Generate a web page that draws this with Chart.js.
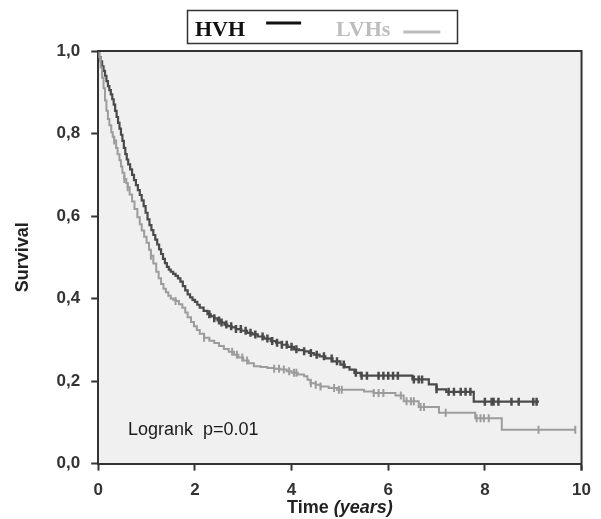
<!DOCTYPE html>
<html>
<head>
<meta charset="utf-8">
<script src="https://cdn.jsdelivr.net/npm/chart.js@4.4.1/dist/chart.umd.min.js"></script>
<style>
  html, body { margin: 0; padding: 0; background: #fff; }
  #wrap { width: 601px; height: 519px; }
</style>
</head>
<body>
<div id="wrap"><canvas id="myChart" width="601" height="519"></canvas></div>
<script>
// Kaplan-Meier curves (time in years, survival)
const hvhTime = [0, 0.02, 0.05, 0.08, 0.11, 0.14, 0.17, 0.2, 0.23, 0.26, 0.29, 0.32, 0.35, 0.38, 0.41, 0.44, 0.47, 0.5, 0.53, 0.56, 0.59, 0.62, 0.66, 0.7, 0.74, 0.78, 0.82, 0.86, 0.9, 0.94, 0.98, 1.02, 1.06, 1.1, 1.14, 1.18, 1.22, 1.26, 1.3, 1.34, 1.38, 1.42, 1.46, 1.5, 1.55, 1.6, 1.65, 1.7, 1.75, 1.8, 1.85, 1.9, 1.95, 2.0, 2.05, 2.1, 2.18, 2.26, 2.33, 2.4, 2.47, 2.55, 2.61, 2.67, 2.76, 2.85, 2.96, 3.08, 3.19, 3.3, 3.43, 3.57, 3.68, 3.8, 3.92, 4.05, 4.15, 4.26, 4.36, 4.46, 4.58, 4.7, 4.85, 5.01, 5.1, 5.2, 5.3, 5.43, 6.5, 6.84, 7.0, 7.2, 7.77, 9.12];
const hvhSurv = [1.0, 0.985, 0.975, 0.963, 0.952, 0.94, 0.927, 0.915, 0.905, 0.895, 0.883, 0.87, 0.855, 0.84, 0.826, 0.812, 0.797, 0.782, 0.765, 0.75, 0.737, 0.725, 0.713, 0.70, 0.687, 0.675, 0.663, 0.651, 0.638, 0.624, 0.608, 0.592, 0.578, 0.566, 0.554, 0.543, 0.531, 0.519, 0.508, 0.496, 0.486, 0.477, 0.47, 0.465, 0.46, 0.455, 0.449, 0.441, 0.43, 0.42, 0.41, 0.403, 0.397, 0.392, 0.385, 0.378, 0.37, 0.362, 0.357, 0.352, 0.347, 0.342, 0.337, 0.333, 0.33, 0.326, 0.322, 0.317, 0.313, 0.308, 0.303, 0.297, 0.293, 0.288, 0.283, 0.277, 0.275, 0.272, 0.268, 0.264, 0.26, 0.255, 0.248, 0.24, 0.234, 0.228, 0.22, 0.213, 0.204, 0.192, 0.180, 0.174, 0.150, 0.150];

const lvhTime = [0, 0.02, 0.05, 0.08, 0.11, 0.14, 0.17, 0.2, 0.23, 0.27, 0.3, 0.33, 0.37, 0.4, 0.44, 0.47, 0.5, 0.54, 0.58, 0.61, 0.65, 0.7, 0.75, 0.81, 0.86, 0.9, 0.95, 1.0, 1.05, 1.09, 1.14, 1.2, 1.25, 1.3, 1.35, 1.4, 1.45, 1.5, 1.55, 1.6, 1.67, 1.74, 1.8, 1.85, 1.92, 1.98, 2.04, 2.1, 2.19, 2.3, 2.4, 2.5, 2.6, 2.7, 2.81, 2.9, 3.0, 3.11, 3.22, 3.36, 3.5, 3.64, 3.77, 3.9, 4.0, 4.13, 4.26, 4.33, 4.39, 4.5, 4.6, 4.77, 4.94, 5.5, 5.7, 6.15, 6.32, 6.63, 7.05, 7.8, 8.35, 9.87];
const lvhSurv = [1.0, 0.985, 0.96, 0.935, 0.91, 0.88, 0.855, 0.835, 0.82, 0.803, 0.792, 0.783, 0.765, 0.75, 0.735, 0.72, 0.705, 0.69, 0.68, 0.67, 0.652, 0.635, 0.617, 0.597, 0.58, 0.565, 0.55, 0.535, 0.518, 0.504, 0.485, 0.465, 0.449, 0.435, 0.424, 0.415, 0.407, 0.40, 0.397, 0.394, 0.386, 0.378, 0.366, 0.355, 0.343, 0.333, 0.324, 0.315, 0.305, 0.298, 0.292, 0.285, 0.278, 0.271, 0.264, 0.257, 0.25, 0.243, 0.236, 0.234, 0.232, 0.23, 0.228, 0.224, 0.22, 0.216, 0.212, 0.203, 0.195, 0.191, 0.187, 0.183, 0.179, 0.175, 0.171, 0.165, 0.151, 0.137, 0.123, 0.110, 0.082, 0.082];

// censored observations (time in years)
const hvhCensor = [2.3, 2.4, 2.5, 2.55, 2.65, 2.75, 2.85, 2.95, 3.05, 3.15, 3.25, 3.4, 3.5, 3.6, 3.7, 3.8, 3.9, 4.0, 4.1, 4.26, 4.4, 4.52, 4.67, 4.83, 4.94, 5.08, 5.33, 5.45, 5.56, 5.8, 5.9, 6.0, 6.1, 6.2, 6.53, 6.63, 6.7, 7.0, 7.25, 7.36, 7.5, 7.6, 7.7, 8.0, 8.14, 8.18, 8.28, 8.55, 8.7, 9.0, 9.07];
const lvhCensor = [0.33, 0.54, 0.61, 1.09, 1.6, 2.19, 2.77, 2.87, 2.98, 3.08, 3.64, 3.74, 3.84, 3.95, 4.05, 4.1, 4.4, 4.5, 4.6, 4.88, 4.98, 5.04, 5.7, 5.8, 5.9, 6.26, 6.38, 6.47, 6.53, 6.67, 6.74, 7.19, 7.83, 7.91, 7.98, 8.08, 9.11, 9.87];

const groups = ['HVH', 'LVHs'];
const xTicks = [0, 2, 4, 6, 8, 10];
const yTicks = [0, 0.2, 0.4, 0.6, 0.8, 1.0];

// value of the step curve at time t
const survAt = (times, surv, t) => {
    let v = surv[0];
    for (let i = 0; i < times.length; i++) {
        if (times[i] <= t) v = surv[i];
    }
    return v;
};

const toPoints = (times, surv) => times.map((t, i) => ({x: t, y: surv[i]}));
const censorPoints = (cens, times, surv) => cens.map(t => ({x: t, y: survAt(times, surv, t)}));

const darkColor = '#4a4a4a';
const lightColor = '#9c9c9c';

// grey panel behind the curves + frame
const plotBg = {
    id: 'plotBg',
    beforeDraw(chart) {
        const {ctx, chartArea: a} = chart;
        ctx.save();
        ctx.fillStyle = '#f0f0f0';
        ctx.fillRect(a.left, a.top, a.right - a.left, a.bottom - a.top);
        ctx.restore();
    },
    afterDatasetsDraw(chart) {
        const {ctx, chartArea: a} = chart;
        ctx.save();
        ctx.strokeStyle = '#333';
        ctx.lineWidth = 2;
        ctx.beginPath();
        ctx.moveTo(a.left, a.top);
        ctx.lineTo(a.right, a.top);
        ctx.lineTo(a.right, a.bottom + 7);
        ctx.stroke();
        ctx.restore();
    }
};

// legend box at top, xtitle with italic part, logrank note
const extras = {
    id: 'extras',
    afterDraw(chart) {
        const {ctx, chartArea: a} = chart;
        ctx.save();
        // legend
        ctx.strokeStyle = '#333';
        ctx.lineWidth = 1.5;
        ctx.strokeRect(187.5, 10.5, 270, 33);
        ctx.font = 'bold 22px "Liberation Serif", "DejaVu Serif", serif';
        ctx.textBaseline = 'alphabetic';
        ctx.textAlign = 'left';
        let x = 195;
        ctx.fillStyle = '#111';
        ctx.fillText(groups[0], x, 36);
        x += ctx.measureText(groups[0]).width + 21;
        ctx.strokeStyle = '#111';
        ctx.lineWidth = 3;
        ctx.beginPath(); ctx.moveTo(x, 23); ctx.lineTo(x + 35, 23); ctx.stroke();
        x += 35 + 35;
        ctx.fillStyle = '#bdbdbd';
        ctx.fillText(groups[1], x, 36);
        x += ctx.measureText(groups[1]).width + 13;
        ctx.strokeStyle = '#bdbdbd';
        ctx.beginPath(); ctx.moveTo(x, 32); ctx.lineTo(x + 37, 32); ctx.stroke();

        // x axis title
        const mid = (a.left + a.right) / 2;
        ctx.fillStyle = '#222';
        ctx.textBaseline = 'middle';
        const f1 = 'bold 18px "Liberation Sans", Arial, sans-serif';
        const f2 = 'italic bold 18px "Liberation Sans", Arial, sans-serif';
        ctx.font = f1; const w1 = ctx.measureText('Time ').width;
        ctx.font = f2; const w2 = ctx.measureText('(years)').width;
        const sx = mid - (w1 + w2) / 2;
        ctx.font = f1; ctx.fillText('Time ', sx, 508);
        ctx.font = f2; ctx.fillText('(years)', sx + w1, 508);

        // logrank
        ctx.font = '18px "Liberation Sans", Arial, sans-serif';
        ctx.fillStyle = '#1a1a1a';
        ctx.fillText('Logrank  p=0.01', 128, 430);
        ctx.restore();
    }
};

const data = {
    datasets: [
        {
            label: groups[1],
            data: toPoints(lvhTime, lvhSurv),
            borderColor: lightColor,
            borderWidth: 2,
            stepped: 'before',
            pointRadius: 0,
            fill: false
        },
        {
            label: groups[1] + ' censored',
            type: 'scatter',
            data: censorPoints(lvhCensor, lvhTime, lvhSurv),
            pointStyle: 'line',
            rotation: 90,
            radius: 4,
            borderWidth: 2,
            borderColor: lightColor,
            backgroundColor: lightColor
        },
        {
            label: groups[0],
            data: toPoints(hvhTime, hvhSurv),
            borderColor: darkColor,
            borderWidth: 2.2,
            stepped: 'before',
            pointRadius: 0,
            fill: false
        },
        {
            label: groups[0] + ' censored',
            type: 'scatter',
            data: censorPoints(hvhCensor, hvhTime, hvhSurv),
            pointStyle: 'line',
            rotation: 90,
            radius: 4,
            borderWidth: 2.5,
            borderColor: darkColor,
            backgroundColor: darkColor
        }
    ]
};

const tickFont = {family: '"Liberation Sans", Arial, sans-serif', size: 17, weight: 'bold'};

const config = {
    type: 'line',
    data: data,
    options: {
        responsive: false,
        animation: false,
        layout: {padding: {top: 51, right: 12, bottom: 8, left: 0}},
        plugins: {legend: {display: false}, tooltip: {enabled: false}},
        scales: {
            x: {
                type: 'linear',
                min: 0, max: 10,
                afterBuildTicks: s => { s.ticks = xTicks.map(v => ({value: v})); },
                ticks: {font: tickFont, color: '#333', padding: 10, maxRotation: 0},
                grid: {drawOnChartArea: false, tickLength: 7, tickColor: '#333', tickWidth: 2},
                border: {color: '#333', width: 2}
            },
            y: {
                min: 0, max: 1,
                afterBuildTicks: s => { s.ticks = yTicks.map(v => ({value: v})); },
                ticks: {font: tickFont, color: '#333', padding: 11,
                    callback: v => v.toFixed(1).replace('.', ',')},
                grid: {drawOnChartArea: false, tickLength: 7, tickColor: '#333', tickWidth: 2},
                border: {color: '#333', width: 2},
                title: {display: true, text: 'Survival', color: '#222',
                    font: {family: '"Liberation Sans", Arial, sans-serif', size: 18, weight: 'bold'},
                    padding: {top: 12, bottom: 12}}
            }
        }
    },
    plugins: [plotBg, extras]
};

const myChart = new Chart(document.getElementById('myChart'), config);
</script>
</body>
</html>
